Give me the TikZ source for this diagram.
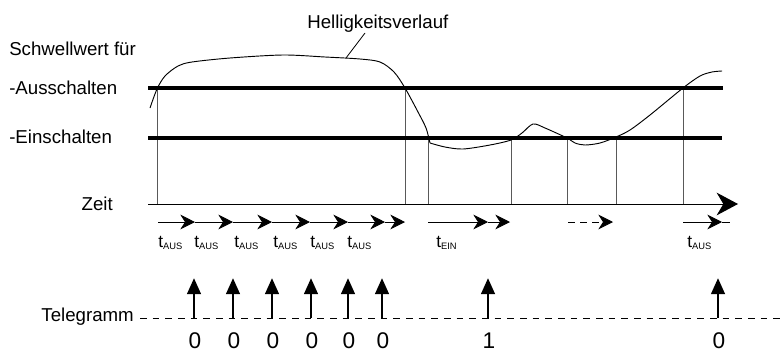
\documentclass[tikz,border=0pt]{standalone}
\usepackage{fontspec}
\setmainfont{Liberation Sans}
\usetikzlibrary{arrows.meta}
\newcommand{\tlab}[1]{{\fontsize{13}{14}\selectfont t\raisebox{-2.2pt}{\fontsize{7}{8}\selectfont #1}}}

\begin{document}
\begin{tikzpicture}[x=0.75pt,y=-0.75pt,font=\fontsize{14}{16}\selectfont,
    thresh/.style={line width=3pt},
    vline/.style={gray!70!black, line width=0.6pt},
    tick/.style={-{Stealth[length=11pt,width=11pt,inset=3.5pt]}, line width=0.6pt},
    pulse/.style={-{Triangle[length=12pt,width=10pt]}, line width=2.2pt},
    lbl/.style={inner sep=0pt, anchor=base west}]
    \useasboundingbox (0,0) rectangle (780,354);

    % labels left
    \node[lbl] (schw) at (9,55) {Schwellwert für};
    \node[lbl] (aus) at (9,94) {-Ausschalten};
    \node[lbl] (ein) at (9,143) {-Einschalten};
    \node[lbl, anchor=base east] (zeit) at (113,210) {Zeit};
    \node[lbl, anchor=base east] (tele) at (134,321) {Telegramm};
    \node[lbl] (hv) at (307,28) {Helligkeitsverlauf};

    % vertical lines up to the thresholds
    \foreach \x/\y in {157/88,405/88,428/138,511/138,567/138,616/138,683/88}
        \draw[vline] (\x,204) -- (\x,\y);

    % thresholds
    \draw[thresh] (148,88) -- (723,88);
    \draw[thresh] (148,138) -- (722,138);

    % brightness curve
    \draw[line width=0.7pt] plot[smooth, tension=0.5] coordinates {
        (150,108) (157,89) (165,76) (178,66) (192,62) (230,58) (283,55)
        (325,57) (360,59) (380,62) (394,72) (405,88) (418,112) (426,128) (430,143)};
    \draw[line width=0.7pt] plot[smooth, tension=0.5] coordinates {
        (430,143) (445,147) (463,149) (490,145) (511,140) (522,133) (533,124)
        (545,128) (567,138) (575,143) (585,145) (600,143) (616,137) (630,130)
        (650,115) (683,88) (700,76) (712,72) (722,71)};
    \coordinate (hvtop) at (365,33);
    \coordinate (hvtip) at (346,58);
    \draw[line width=0.6pt] (hvtop) -- (hvtip);

    % time axis
    \draw[-{Stealth[length=16pt,width=17pt,inset=5pt]}, line width=0.75pt] (148,204) -- (738,204);

    % t arrows
    \foreach \a/\b in {158/195,195/233,233/272,272/310,310/348,348/385,385/405}
        \draw[tick] (\a,222) -- (\b,222);
    \foreach \x in {158,194,234,273,310,347}
        \node[lbl] at (\x,247) {\tlab{AUS}};
    \draw[tick] (428,222) -- (488,222);
    \draw[tick] (488,222) -- (510,222);
    \node[lbl] (tein) at (436,247) {\tlab{EIN}};
    \draw[tick, dash pattern=on 5pt off 4pt] (568,222) -- (613,222);
    \draw[tick] (683,222) -- (722,222);
    \draw[line width=0.6pt] (722,222) -- (730,222);
    \node[lbl] (tlast) at (687,247) {\tlab{AUS}};

    % telegram
    \draw[dash pattern=on 5pt off 4.5pt, line width=0.6pt] (140,318) -- (780,318);
    \foreach \x/\b [count=\i] in {194/0,233/0,272/0,311/0,348/0,382/0,488/1,718/0} {
        \coordinate (p\i) at (\x,318);
        \coordinate (q\i) at (\x,278);
        \draw[pulse] (p\i) -- (q\i);
        \node[inner sep=0pt, anchor=base, font=\fontsize{17}{19}\selectfont] (b\i) at (\x+1,348) {\b};
    }
\end{tikzpicture}
\end{document}
